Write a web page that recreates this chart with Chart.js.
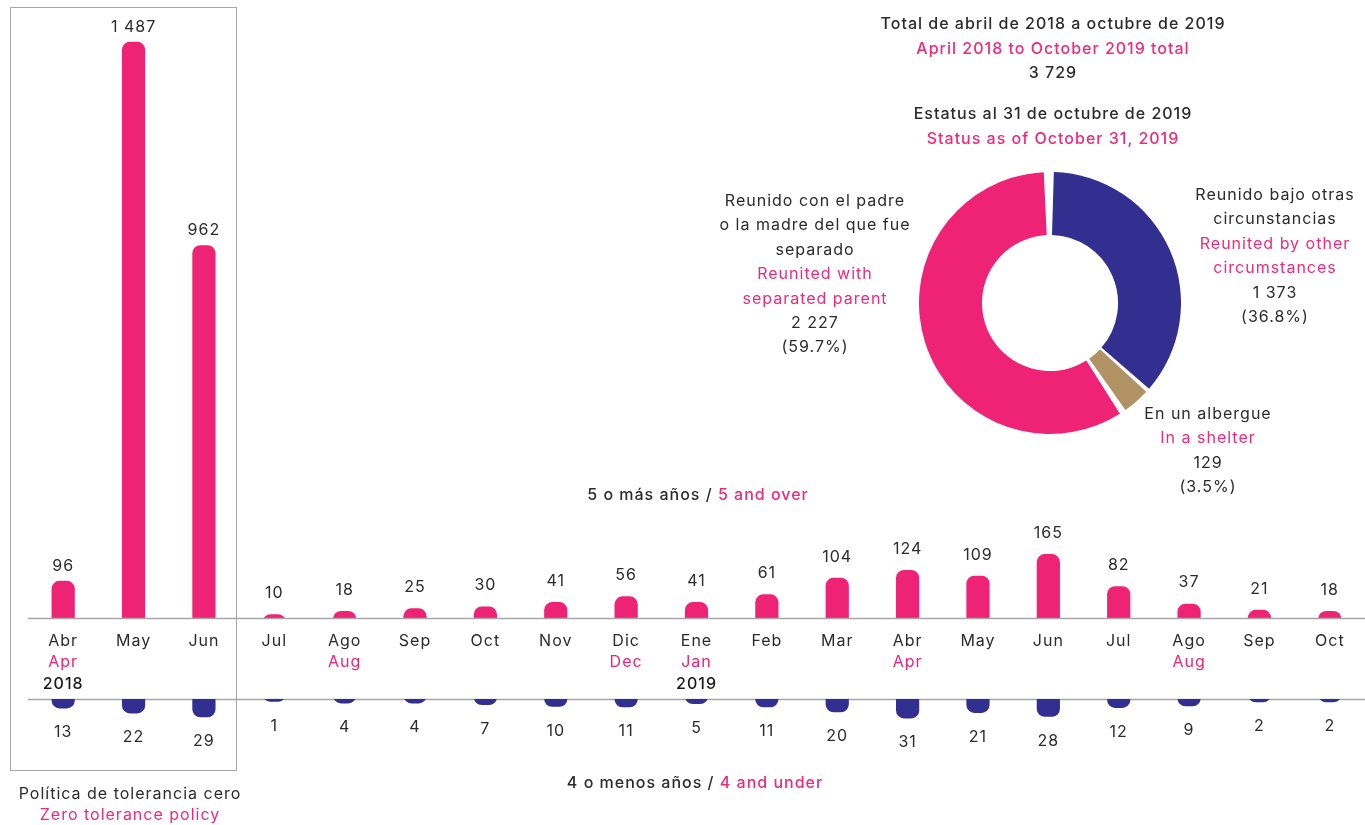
<!DOCTYPE html>
<html>
<head>
<meta charset="utf-8">
<script src="https://cdn.jsdelivr.net/npm/chart.js@4.4.1/dist/chart.umd.min.js"></script>
<style>
body { margin: 0; background: #fff; font-family: Inter, sans-serif; }
#wrap { position: relative; width: 1365px; height: 825px; overflow: hidden; }
canvas { position: absolute; }
#box { position: absolute; left: 10px; top: 7px; width: 225px; height: 762px; border: 1.5px solid #a6a6a6; }
.t { position: absolute; transform: translate(-50%, -50%); white-space: nowrap; font-size: 16px; letter-spacing: 1px; color: #2b2b2b; }
.m { font-weight: 500; }
.p { color: #ee2a7b; }
</style>
</head>
<body>
<div id="wrap">
  <div id="box"></div>
  <canvas id="over" width="1365" height="701" style="left:0;top:0"></canvas>
  <canvas id="under" width="1365" height="90" style="left:0;top:699px"></canvas>
  <canvas id="status" width="262" height="262" style="left:919px;top:172px"></canvas>
</div>
<script>
const monthsEs = ["Abr", "May", "Jun", "Jul", "Ago", "Sep", "Oct", "Nov", "Dic", "Ene", "Feb", "Mar", "Abr", "May", "Jun", "Jul", "Ago", "Sep", "Oct"];
const monthsEn = ["Apr", "", "", "", "Aug", "", "", "", "Dec", "Jan", "", "", "Apr", "", "", "", "Aug", "", ""];
const years = ["2018", "", "", "", "", "", "", "", "", "2019", "", "", "", "", "", "", "", "", ""];
const over5 = [96, 1487, 962, 10, 18, 25, 30, 41, 56, 41, 61, 104, 124, 109, 165, 82, 37, 21, 18];
const under4 = [13, 22, 29, 1, 4, 4, 7, 10, 11, 5, 11, 20, 31, 21, 28, 12, 9, 2, 2];

const statusEs = [["Reunido bajo otras", "circunstancias"], ["En un albergue"], ["Reunido con el padre", "o la madre del que fue", "separado"]];
const statusEn = [["Reunited by other", "circumstances"], ["In a shelter"], ["Reunited with", "separated parent"]];
const statusValues = [1373, 129, 2227];
const statusPct = ["36.8%", "3.5%", "59.7%"];

const pink = "#ee2375";
const blue = "#322f91";
const tan = "#b09264";
const dark = "#2b2b2b";

function fmt(n) {
    return String(n).replace(/\B(?=(\d{3})+(?!\d))/g, " ");
}

const wrap = document.getElementById("wrap");
function addText(x, y, html, cls) {
    const d = document.createElement("div");
    d.className = "t " + (cls || "");
    d.style.left = x + "px";
    d.style.top = y + "px";
    d.innerHTML = html;
    wrap.appendChild(d);
}

// etiquetas, meses y lineas base del grafico superior
const overLabels = {
    id: "overLabels",
    afterDatasetsDraw(chart) {
        const ctx = chart.ctx;
        const area = chart.chartArea;
        ctx.save();
        ctx.strokeStyle = "#a6a6a6";
        ctx.lineWidth = 1.5;
        ctx.beginPath();
        ctx.moveTo(area.left, area.bottom + 0.5);
        ctx.lineTo(area.right, area.bottom + 0.5);
        ctx.moveTo(area.left, 699.5);
        ctx.lineTo(area.right, 699.5);
        ctx.stroke();
        ctx.textAlign = "center";
        ctx.textBaseline = "middle";
        ctx.letterSpacing = "1px";
        chart.getDatasetMeta(0).data.forEach((bar, i) => {
            ctx.font = "16px Inter";
            ctx.fillStyle = dark;
            ctx.fillText(fmt(over5[i]), bar.x, bar.y - (i < 3 ? 15 : 21));
            ctx.fillText(monthsEs[i], bar.x, area.bottom + 23);
            ctx.fillStyle = pink;
            ctx.fillText(monthsEn[i], bar.x, area.bottom + 44);
            ctx.font = "500 16px Inter";
            ctx.fillStyle = "#1a1a1a";
            ctx.fillText(years[i], bar.x, area.bottom + 66);
        });
        ctx.restore();
    }
};

const underLabels = {
    id: "underLabels",
    afterDatasetsDraw(chart) {
        const ctx = chart.ctx;
        ctx.save();
        ctx.font = "16px Inter";
        ctx.letterSpacing = "1px";
        ctx.fillStyle = dark;
        ctx.textAlign = "center";
        ctx.textBaseline = "middle";
        chart.getDatasetMeta(0).data.forEach((bar, i) => {
            ctx.fillText(fmt(under4[i]), bar.x, bar.y + 24);
        });
        ctx.restore();
    }
};

const common = {
    responsive: false,
    animation: false,
    events: [],
    plugins: { legend: { display: false }, tooltip: { enabled: false } }
};

new Chart(document.getElementById("over"), {
    type: "bar",
    data: {
        labels: monthsEs,
        datasets: [{
            data: over5,
            backgroundColor: pink,
            base: -200,
            clip: 0,
            borderRadius: 8,
            borderSkipped: "start",
            barPercentage: 0.33,
            categoryPercentage: 1
        }]
    },
    options: {
        ...common,
        layout: { padding: { left: 28, right: 0, top: 0, bottom: 83 } },
        scales: {
            x: { display: false },
            y: { display: false, min: 0, max: 1595 }
        }
    },
    plugins: [overLabels]
});

new Chart(document.getElementById("under"), {
    type: "bar",
    data: {
        labels: monthsEs,
        datasets: [{
            data: under4,
            backgroundColor: blue,
            base: -80,
            clip: 0,
            borderRadius: 8,
            borderSkipped: "start",
            barPercentage: 0.33,
            categoryPercentage: 1
        }]
    },
    options: {
        ...common,
        layout: { padding: { left: 28, right: 0, top: 0, bottom: 0 } },
        scales: {
            x: { display: false },
            y: { display: false, reverse: true, min: -4, max: 158 }
        }
    },
    plugins: [underLabels]
});

new Chart(document.getElementById("status"), {
    type: "doughnut",
    data: {
        labels: statusEs.map(l => l.join(" ")),
        datasets: [{
            data: statusValues,
            backgroundColor: [blue, tan, pink],
            borderWidth: 0,
            spacing: 5
        }]
    },
    options: { ...common, cutout: "51%", layout: { padding: 0 } }
});

// textos
const total = statusValues.reduce((a, b) => a + b, 0);
addText(1053, 23, "Total de abril de 2018 a octubre de 2019", "m");
addText(1053, 48, "April 2018 to October 2019 total", "m p");
addText(1053, 72, fmt(total), "m");
addText(1053, 113, "Estatus al 31 de octubre de 2019", "m");
addText(1053, 138, "Status as of October 31, 2019", "m p");

const statusPos = [[1275, 194], [1208, 413], [815, 200]];
statusValues.forEach((v, i) => {
    const lines = [];
    statusEs[i].forEach(s => lines.push([s, ""]));
    statusEn[i].forEach(s => lines.push([s, "p"]));
    lines.push([fmt(v), ""]);
    lines.push(["(" + statusPct[i] + ")", ""]);
    lines.forEach((l, k) => addText(statusPos[i][0], statusPos[i][1] + k * 24.4, l[0], l[1]));
});

addText(698, 494, '5 o más años / <span class="p">5 and over</span>', "m");
addText(695, 782, '4 o menos años / <span class="p">4 and under</span>', "m");
addText(130, 793, "Política de tolerancia cero", "");
addText(130, 814, "Zero tolerance policy", "p");
</script>
</body>
</html>
